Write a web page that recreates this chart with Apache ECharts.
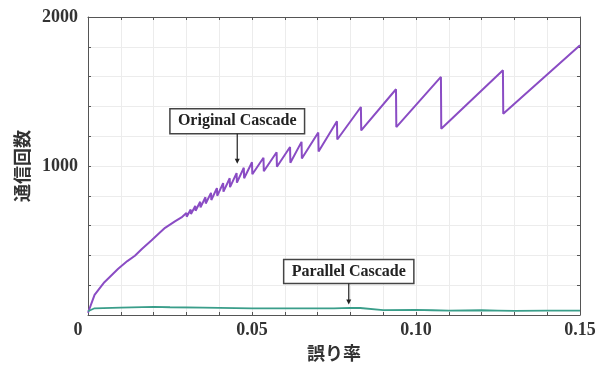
<!DOCTYPE html>
<html><head><meta charset="utf-8">
<script src="https://cdn.jsdelivr.net/npm/echarts@6/dist/echarts.min.js"></script>
<style>html,body{margin:0;padding:0;background:#fff}#c{width:606px;height:367px}</style>
</head><body><div id="c"></div>
<script>
// Original Cascade (x = error rate, y = communication count)
const origX = [0, 0.002, 0.005, 0.0092, 0.012, 0.0143, 0.0165, 0.0194, 0.022, 0.0235, 0.0265, 0.0285,
  0.0300, 0.0301, 0.0313, 0.0314, 0.0327, 0.0328, 0.0342, 0.0343, 0.0358, 0.0359, 0.0375, 0.0376,
  0.0393, 0.0394, 0.0412, 0.0413, 0.0432, 0.0433, 0.0453, 0.0454, 0.0475, 0.0476, 0.0500, 0.0501,
  0.0535, 0.0536, 0.0575, 0.0576, 0.0616, 0.0617, 0.0651, 0.0652, 0.0702, 0.0703, 0.0759, 0.0760,
  0.0832, 0.0833, 0.0939, 0.0940, 0.1076, 0.1077, 0.1265, 0.1266, 0.15];
const origY = [15, 135, 220, 310, 362, 398, 445, 502, 555, 585, 628, 655,
  685, 660, 708, 678, 732, 700, 760, 722, 790, 748, 820, 772,
  852, 800, 885, 828, 918, 858, 952, 888, 988, 918, 1025, 945,
  1055, 965, 1092, 995, 1128, 1022, 1162, 1050, 1225, 1098, 1300, 1178,
  1396, 1239, 1515, 1261, 1598, 1250, 1643, 1351, 1811];
// Parallel Cascade
const paraX = [0, 0.002, 0.01, 0.02, 0.025, 0.035, 0.05, 0.06, 0.075, 0.08, 0.083, 0.0835, 0.09, 0.1, 0.105, 0.11, 0.12, 0.125, 0.13, 0.14, 0.15];
const paraY = [25, 45, 50, 55, 52, 50, 45, 44, 45, 48, 47, 35, 33, 34, 32, 30, 32, 30, 28, 29, 29];

const seriesNames = ['Original Cascade', 'Parallel Cascade'];
const xTickLabels = ['0', '0.05', '0.10', '0.15'];
const yTickLabels = ['1000', '2000'];
const xName = '誤り率';
const yName = '通信回数';
// annotation anchor points (data coords of arrow tips)
const annoX = [0.0455, 0.0795];
const annoY = [1015, 70];

const zip = (a, b) => a.map((v, i) => [v, b[i]]);
const chart = echarts.init(document.getElementById('c'));
const serif = '"Liberation Serif", "DejaVu Serif", serif';
const cjk = '"Noto Sans CJK JP", sans-serif';
const axisCol = '#555';
const gridCol = '#ececec';

function xFmt(v) {
  const k = Math.round(v * 100);
  if (k === 0) return '{z|0}';
  if (k % 5 === 0) { const s = (k / 100).toFixed(2); return xTickLabels.includes(s) ? s : ''; }
  return '';
}
function yFmt(v) {
  const s = String(Math.round(v));
  return yTickLabels.includes(s) ? s : '';
}
const tick = { inside: true, length: 3, lineStyle: { color: axisCol } };

chart.setOption({
  animation: false,
  grid: { left: 88, right: 26, top: 17, bottom: 52, containLabel: false },
  xAxis: [{
    type: 'value', min: 0, max: 0.15, interval: 0.01,
    name: xName, nameLocation: 'middle', nameGap: 28,
    nameTextStyle: { fontFamily: cjk, fontSize: 18, fontWeight: 'bold', color: '#333' },
    axisLine: { onZero: false, lineStyle: { color: axisCol, width: 1 } },
    axisTick: tick,
    splitLine: { show: true, lineStyle: { color: gridCol, width: 1 } },
    axisLabel: { formatter: xFmt, margin: 6, fontFamily: serif, fontSize: 18, fontWeight: 'bold', color: '#333',
      showMinLabel: true, showMaxLabel: true,
      rich: { z: { fontFamily: serif, fontSize: 18, fontWeight: 'bold', color: '#333', padding: [0, 20, 0, 0] } } }
  }, {
    type: 'value', position: 'top', min: 0, max: 0.15, interval: 0.01,
    axisLine: { show: true, onZero: false, lineStyle: { color: axisCol } },
    axisTick: tick,
    axisLabel: { show: false }, splitLine: { show: false }
  }],
  yAxis: [{
    type: 'value', min: 0, max: 2000, interval: 200,
    name: yName, nameLocation: 'middle', nameGap: 56, nameRotate: 90,
    nameTextStyle: { fontFamily: cjk, fontSize: 18, fontWeight: 'bold', color: '#333' },
    axisLine: { show: true, onZero: false, lineStyle: { color: axisCol } },
    axisTick: tick,
    splitLine: { show: true, lineStyle: { color: gridCol, width: 1 } },
    axisLabel: { formatter: yFmt, margin: 10, fontFamily: serif, fontSize: 18, fontWeight: 'bold', color: '#333' }
  }, {
    type: 'value', position: 'right', min: 0, max: 2000, interval: 200,
    axisLine: { show: true, onZero: false, lineStyle: { color: axisCol } },
    axisTick: tick,
    axisLabel: { show: false }, splitLine: { show: false }
  }],
  series: [{
    name: seriesNames[0], type: 'line', data: zip(origX, origY), showSymbol: false,
    lineStyle: { color: '#8a4cc4', width: 2 }, z: 3
  }, {
    name: seriesNames[1], type: 'line', data: zip(paraX, paraY), showSymbol: false,
    lineStyle: { color: '#3a9e8a', width: 1.8 }, z: 3
  }]
});

// annotations: boxed labels with arrows pointing at the curves
const boxH = [25, 24], gap = [30, 21], padX = 7;
const elems = [];
seriesNames.forEach((name, i) => {
  const p = chart.convertToPixel({ xAxisIndex: 0, yAxisIndex: 0 }, [annoX[i], annoY[i]]);
  const font = 'bold 16px ' + serif;
  const w = echarts.format.getTextRect ? echarts.format.getTextRect(name, font).width : name.length * 8;
  const bw = w + padX * 2 + 2;
  const by = p[1] - gap[i] - boxH[i];
  elems.push({ type: 'rect', shape: { x: p[0] - bw / 2, y: by, width: bw, height: boxH[i] },
    style: { fill: '#fff', stroke: '#444', lineWidth: 1.5 }, z: 10 });
  elems.push({ type: 'text', x: p[0], y: by + boxH[i] / 2,
    style: { text: name, font: font, fill: '#222', align: 'center', verticalAlign: 'middle' }, z: 11 });
  elems.push({ type: 'line', shape: { x1: p[0], y1: by + boxH[i], x2: p[0], y2: p[1] - 4 },
    style: { stroke: '#222', lineWidth: 1.2 }, z: 10 });
  elems.push({ type: 'polygon', shape: { points: [[p[0] - 2.5, p[1] - 5], [p[0] + 2.5, p[1] - 5], [p[0], p[1]]] },
    style: { fill: '#222' }, z: 10 });
});
chart.setOption({ graphic: elems });
</script></body></html>
